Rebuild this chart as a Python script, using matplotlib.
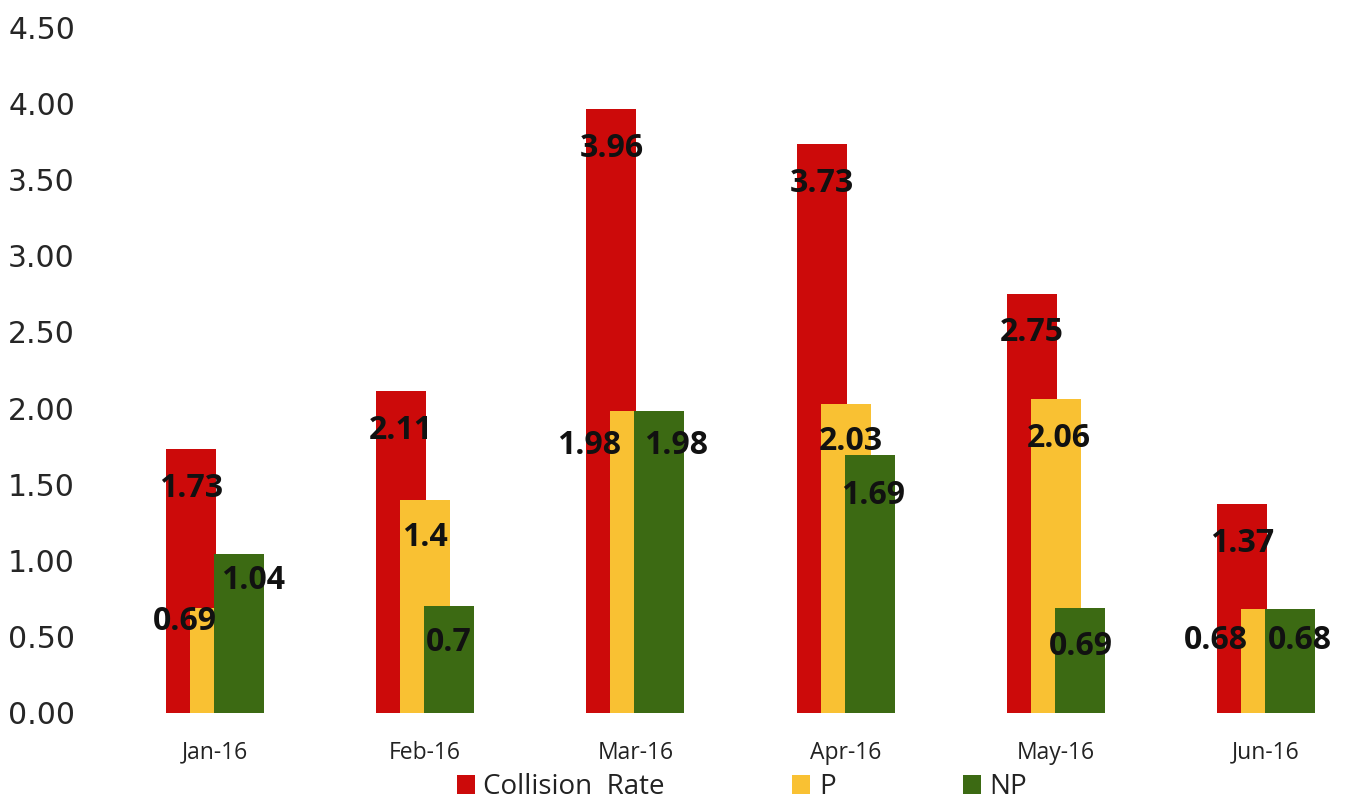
import numpy as np
import matplotlib.pyplot as plt

months = ['Jan-16', 'Feb-16', 'Mar-16', 'Apr-16', 'May-16', 'Jun-16']
collision = [1.73, 2.11, 3.96, 3.73, 2.75, 1.37]
p_vals = [0.69, 1.4, 1.98, 2.03, 2.06, 0.68]
np_vals = [1.04, 0.7, 1.98, 1.69, 0.69, 0.68]
p_text = ['0.69', '1.4', '1.98', '2.03', '2.06', '0.68']
np_text = ['1.04', '0.7', '1.98', '1.69', '0.69', '0.68']

# label nudges in pixels (dx, dy) relative to the bar top
p_nudge = [(-30, -14), (0, -38), (-46, -34), (5, -38), (3, -40), (-50, -31)]
np_nudge = [(14, -26), (0, -36), (17, -34), (3, -40), (1, -39), (10, -31)]

red = '#CC0A0A'
yellow = '#F9C133'
green = '#3C6A13'

fig = plt.figure(figsize=(13.54, 8), dpi=100)
ax = fig.add_axes([100/1354, 87/800, 1240/1354, 686/800])

x = np.arange(len(months))
w = 0.238
off = 0.114

ax.bar(x - off, collision, w, color=red, label='Collision  Rate', zorder=1)
ax.bar(x, p_vals, w, color=yellow, label='P', zorder=2)
ax.bar(x + off, np_vals, w, color=green, label='NP', zorder=3)

lab = dict(fontsize=23, fontweight='bold', family='Open Sans', color='#111111',
           ha='center', va='center', textcoords='offset pixels', zorder=5)
for i in range(len(months)):
    ax.annotate(f'{collision[i]:.2f}', (x[i] - off, collision[i]), xytext=(0, -39), **lab)
    ax.annotate(p_text[i], (x[i], p_vals[i]), xytext=p_nudge[i], **lab)
    ax.annotate(np_text[i], (x[i] + off, np_vals[i]), xytext=np_nudge[i], **lab)

ax.set_xlim((100 - 215) / 210.2, (1340 - 215) / 210.2)
ax.set_ylim(0, 4.5)
ax.set_yticks(np.arange(0, 4.51, 0.5))
ax.set_yticklabels([f'{v:.2f}' for v in np.arange(0, 4.51, 0.5)],
                   fontsize=21.5, color='#262626', family='DejaVu Sans')
ax.set_xticks(x)
ax.set_xticklabels(months, fontsize=16.5, family='Open Sans', color='#222222')
ax.tick_params(length=0)
ax.tick_params(axis='x', pad=20)
ax.tick_params(axis='y', pad=18)
for s in ax.spines.values():
    s.set_visible(False)

leg = fig.legend(loc='center', bbox_to_anchor=(742/1354, 1 - 787/800), ncol=3,
                 frameon=False, prop={'family': 'Open Sans', 'size': 20},
                 handlelength=0.65, handleheight=0.65, handletextpad=0.3,
                 columnspacing=4.6)
for t in leg.get_texts():
    t.set_color('#222222')

fig.savefig('out.png', dpi=100)
